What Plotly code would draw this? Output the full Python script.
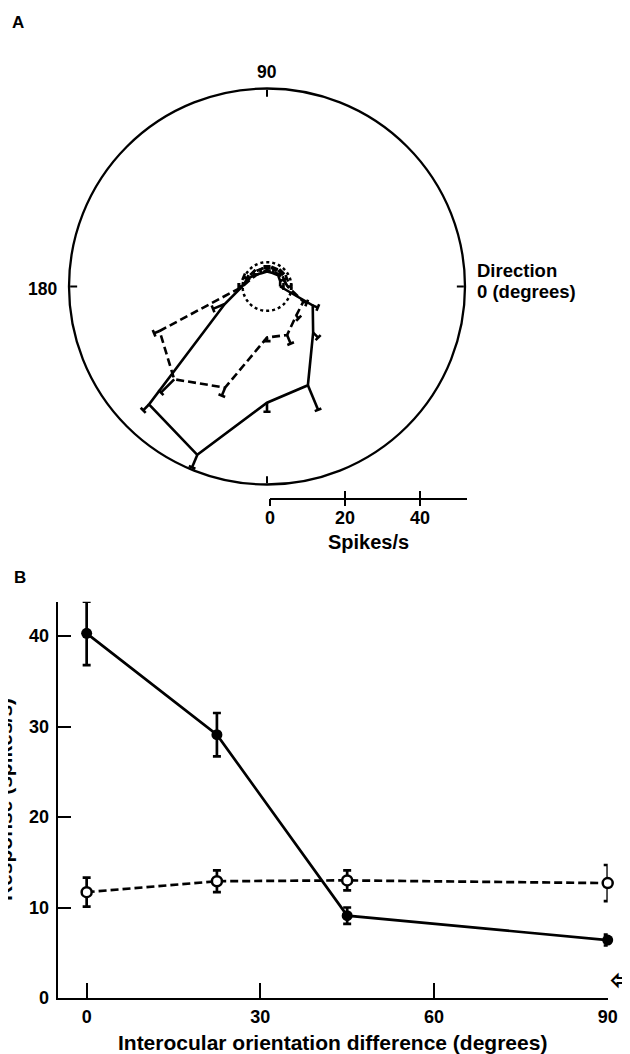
import numpy as np
import plotly.graph_objects as go

# ---------------- Panel A data (polar direction tuning) ----------------
directions = [0, 22.5, 45, 67.5, 90, 112.5, 135, 157.5, 180,
              202.5, 225, 247.5, 270, 292.5, 315, 337.5]
solid_r   = [3.5, 3.8, 4.2, 3.9, 4.0, 3.8, 4.4, 5.6, 6.6,
             12.2, 44.5, 48.6, 31.0, 28.5, 17.4, 13.2]
solid_err = [1.0, 1.2, 1.0, 1.2, 1.0, 1.2, 1.0, 1.2, 1.0,
             3.4, 2.2, 3.6, 2.4, 7.1, 1.9, 1.5]
dash_r    = [5.5, 4.8, 4.5, 4.4, 4.3, 4.0, 4.2, 4.8, 6.5,
             31.0, 35.0, 29.2, 13.6, 14.0, 11.0, 10.5]
dash_err  = [1.0, 1.0, 1.2, 1.0, 1.2, 1.0, 1.2, 1.0, 1.0,
             1.6, 5.0, 2.3, 1.0, 2.5, 1.0, 1.0]
spontaneous = 6.5
radial_max = 52.8
scale_ticks = [0, 20, 40]

# ---------------- Panel B data ----------------
orient_diff = [0, 22.5, 45, 90]
resp_solid = [40.3, 29.1, 9.1, 6.4]
err_solid = [3.5, 2.4, 0.9, 0.6]
resp_open = [11.7, 12.9, 13.0, 12.7]
err_open = [1.6, 1.2, 1.1, 2.0]
xticks_B = [0, 30, 60, 90]
yticks_B = [0, 10, 20, 30, 40]

# page body adds an 8 px margin; the figure is sized to fill the rest
OFF = 8
W, H = 622, 1046
FONT = "Liberation Sans, Arial, sans-serif"
BLACK = "black"

def fx(s):
    return (s - OFF) / W

def fy(s):
    return 1 - (s - OFF) / H

def bf(size):
    return dict(size=size, family=FONT, color=BLACK, weight="bold")

fig = go.Figure()

def closed(a):
    return list(a) + [a[0]]

def polar_errorbars(theta, r, err, cap_units=0.95):
    th, rr = [], []
    for t, v, e in zip(theta, r, err):
        end = v + e
        d = np.degrees(cap_units / end)
        th += [t, t, None, t - d, t + d, None]
        rr += [v, end, None, end, end, None]
    return th, rr

# spontaneous activity circle (dotted)
circ_theta = np.arange(0, 361, 4)
fig.add_trace(go.Scatterpolar(theta=circ_theta, r=[spontaneous] * len(circ_theta),
                              mode="lines", line=dict(color=BLACK, width=2.5, dash="3px,3px"),
                              hoverinfo="skip", subplot="polar"))

for rv, ev, dash in [(solid_r, solid_err, "solid"), (dash_r, dash_err, "8px,4px")]:
    fig.add_trace(go.Scatterpolar(theta=closed(directions), r=closed(rv), mode="lines",
                                  line=dict(color=BLACK, width=2.6, dash=dash),
                                  hoverinfo="skip", subplot="polar"))
    th, rr = polar_errorbars(directions, rv, ev)
    fig.add_trace(go.Scatterpolar(theta=th, r=rr, mode="lines",
                                  line=dict(color=BLACK, width=2.6),
                                  hoverinfo="skip", subplot="polar"))

# scale bar axes (invisible anchor traces)
fig.add_trace(go.Scatter(x=[0], y=[0], xaxis="x2", yaxis="y2", mode="markers",
                         marker=dict(opacity=0), hoverinfo="skip"))
fig.add_trace(go.Scatter(x=[0], y=[0], xaxis="x3", yaxis="y2", mode="markers",
                         marker=dict(opacity=0), hoverinfo="skip"))

# ---------------- Panel B traces ----------------
fig.add_trace(go.Scatter(x=orient_diff, y=resp_open, mode="lines+markers",
                         line=dict(color=BLACK, width=2.7, dash="8px,4px"),
                         marker=dict(symbol="circle", size=10, color="white",
                                     line=dict(color=BLACK, width=2.5)),
                         error_y=dict(type="data", array=err_open, color=BLACK,
                                      thickness=2.7, width=4),
                         xaxis="x", yaxis="y", hoverinfo="skip", cliponaxis=False))
fig.add_trace(go.Scatter(x=orient_diff, y=resp_solid, mode="lines+markers",
                         line=dict(color=BLACK, width=2.7),
                         marker=dict(symbol="circle", size=11, color=BLACK),
                         error_y=dict(type="data", array=err_solid, color=BLACK,
                                      thickness=2.7, width=4),
                         xaxis="x", yaxis="y", hoverinfo="skip", cliponaxis=False))

# polar geometry on screen: centre (267, 286.5), radius 198 px
cx, cy, rad = 267, 286.5, 198

fig.update_layout(
    width=W, height=H, margin=dict(l=0, r=0, t=0, b=0, autoexpand=False),
    paper_bgcolor="white", plot_bgcolor="white", showlegend=False,
    font=bf(18),
    polar=dict(
        domain=dict(x=[fx(cx - rad), fx(cx + rad)], y=[fy(cy + rad), fy(cy - rad)]),
        bgcolor="white",
        radialaxis=dict(visible=False, range=[0, radial_max]),
        angularaxis=dict(showline=True, linecolor=BLACK, linewidth=2.3,
                         showgrid=False, ticks="inside", ticklen=7, tickwidth=2.2,
                         tickcolor=BLACK, tickvals=[0, 90, 180, 270],
                         showticklabels=False, rotation=0, direction="counterclockwise"),
    ),
    xaxis2=dict(domain=[fx(270), fx(467)], range=[0, 52.5], anchor="y2",
                showline=True, linecolor=BLACK, linewidth=2.3,
                ticks="inside", ticklen=7, tickwidth=2.2, tickcolor=BLACK,
                tickvals=scale_ticks, tickfont=bf(18), showgrid=False,
                zeroline=False, ticklabelstandoff=2, automargin=False,
                title=dict(text="Spikes/s", font=bf(20), standoff=8)),
    xaxis3=dict(domain=[fx(270), fx(467)], range=[0, 52.5], anchor="y2",
                overlaying="x2", showline=False, ticks="outside", ticklen=7,
                tickwidth=2.2, tickcolor=BLACK, tickvals=scale_ticks,
                showticklabels=False, showgrid=False, zeroline=False, automargin=False),
    yaxis2=dict(domain=[fy(498), fy(498) + 0.01], visible=False, range=[0, 1]),
    xaxis=dict(domain=[fx(57.7), fx(607.7)], range=[-5, 90], anchor="y",
               showline=True, linecolor=BLACK, linewidth=2.3, showgrid=False,
               zeroline=False, ticks="inside", ticklen=15, tickwidth=2.2,
               tickcolor=BLACK, tickvals=xticks_B, tickfont=bf(18),
               ticklabelstandoff=1, automargin=False,
               title=dict(text="Interocular orientation difference (degrees)",
                          font=bf(21), standoff=15)),
    yaxis=dict(domain=[fy(998), fy(601.7)], range=[0, 43.8], anchor="x",
               showline=True, linecolor=BLACK, linewidth=2.3, showgrid=False,
               zeroline=False, ticks="inside", ticklen=13, tickwidth=2.2,
               tickcolor=BLACK, tickvals=yticks_B, tickfont=bf(18),
               ticklabelstandoff=3, automargin=False),
    annotations=[
        dict(text="A", x=fx(10), y=fy(23), xref="paper", yref="paper",
             xanchor="left", yanchor="middle", showarrow=False, font=bf(17)),
        dict(text="B", x=fx(12), y=fy(577), xref="paper", yref="paper",
             xanchor="left", yanchor="middle", showarrow=False, font=bf(17)),
        dict(text="90", x=fx(cx), y=fy(72), xref="paper", yref="paper",
             xanchor="center", yanchor="middle", showarrow=False, font=bf(17.5)),
        dict(text="180", x=fx(59), y=fy(289), xref="paper", yref="paper",
             xanchor="right", yanchor="middle", showarrow=False, font=bf(17.5)),
        dict(text="Direction", x=fx(475), y=fy(270),
             xref="paper", yref="paper", xanchor="left", yanchor="middle",
             showarrow=False, font=bf(18.5)),
        dict(text="0 (degrees)", x=fx(475), y=fy(291),
             xref="paper", yref="paper", xanchor="left", yanchor="middle",
             showarrow=False, font=bf(18.5)),
        dict(text="Response (spikes/s)", textangle=-90, x=fx(4), y=fy(800),
             xref="paper", yref="paper", xanchor="center", yanchor="middle",
             showarrow=False, font=bf(21)),
        dict(text="\u21e6", x=fx(608), y=fy(979), xref="paper", yref="paper",
             xanchor="left", yanchor="middle", showarrow=False,
             font=dict(size=30, family="DejaVu Sans", color=BLACK)),
    ],
)

fig.write_html("out.html")
